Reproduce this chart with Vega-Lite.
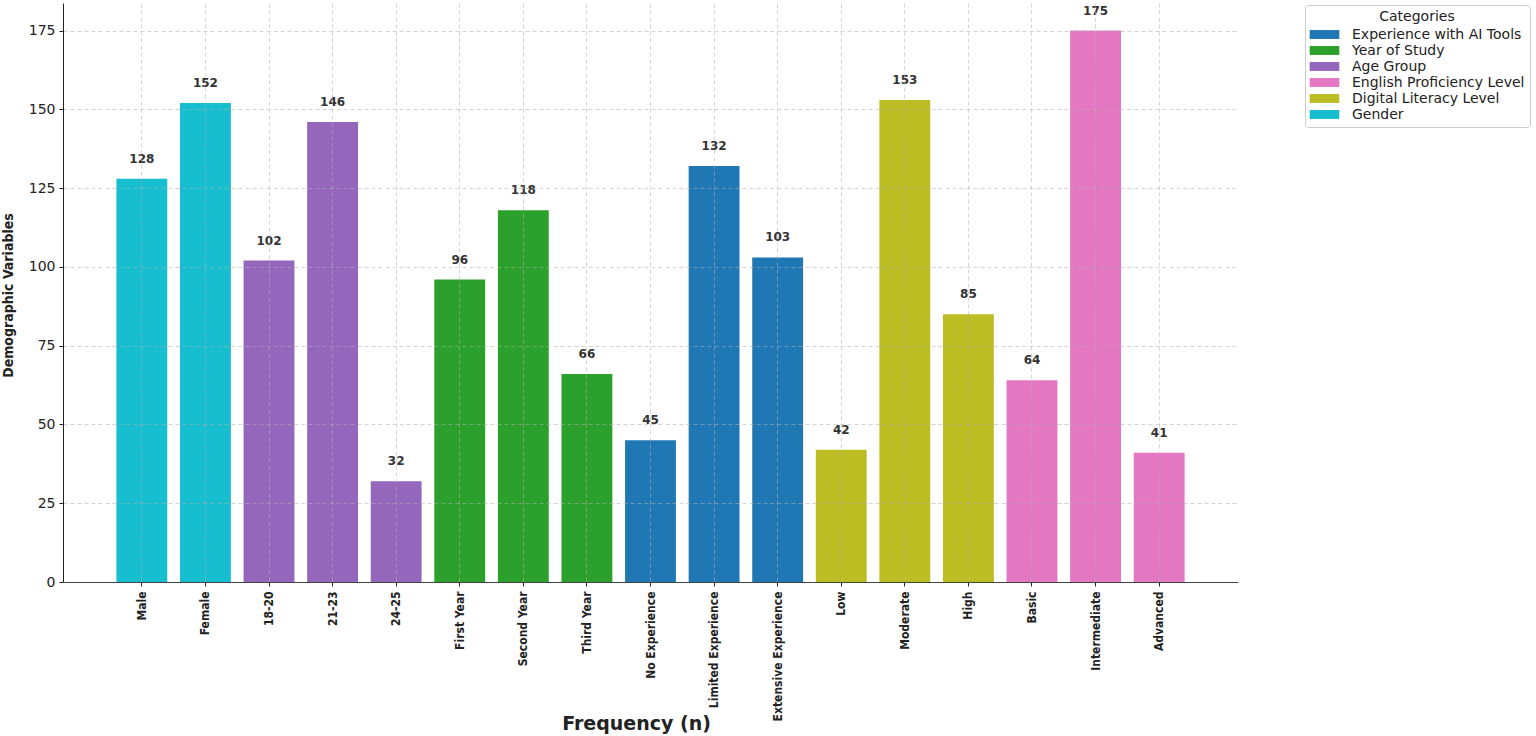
{
  "$schema": "https://vega.github.io/schema/vega-lite/v6.json",
  "autosize": {"type": "none"},
  "padding": {"left": 63, "top": 3, "right": 298, "bottom": 154},
  "width": 1175,
  "height": 579,
  "background": "white",
  "config": {
    "view": {"stroke": null},
    "font": "DejaVu Sans"
  },
  "data": {
    "values": [
      {"item": "Male", "n": 128, "category": "Gender"},
      {"item": "Female", "n": 152, "category": "Gender"},
      {"item": "18-20", "n": 102, "category": "Age Group"},
      {"item": "21-23", "n": 146, "category": "Age Group"},
      {"item": "24-25", "n": 32, "category": "Age Group"},
      {"item": "First Year", "n": 96, "category": "Year of Study"},
      {"item": "Second Year", "n": 118, "category": "Year of Study"},
      {"item": "Third Year", "n": 66, "category": "Year of Study"},
      {"item": "No Experience", "n": 45, "category": "Experience with AI Tools"},
      {"item": "Limited Experience", "n": 132, "category": "Experience with AI Tools"},
      {"item": "Extensive Experience", "n": 103, "category": "Experience with AI Tools"},
      {"item": "Low", "n": 42, "category": "Digital Literacy Level"},
      {"item": "Moderate", "n": 153, "category": "Digital Literacy Level"},
      {"item": "High", "n": 85, "category": "Digital Literacy Level"},
      {"item": "Basic", "n": 64, "category": "English Proficiency Level"},
      {"item": "Intermediate", "n": 175, "category": "English Proficiency Level"},
      {"item": "Advanced", "n": 41, "category": "English Proficiency Level"}
    ]
  },
  "encoding": {
    "x": {
      "field": "item",
      "type": "nominal",
      "sort": null,
      "scale": {"paddingInner": 0.2, "paddingOuter": 0.84},
      "axis": {
        "title": "Frequency (n)",
        "titleFont": "DejaVu Sans",
        "titleFontSize": 19,
        "titleFontWeight": "bold",
        "titleColor": "#222",
        "titleBaseline": "middle",
        "titleY": 141,
        "titleX": 573,
        "labelAngle": -90,
        "labelAlign": "right",
        "labelBaseline": "middle",
        "labelFont": "DejaVu Sans Condensed",
        "labelFontSize": 12,
        "labelFontWeight": "bold",
        "labelColor": "#222",
        "labelPadding": 5,
        "bandPosition": 0.5,
        "grid": true,
        "gridColor": "#b0b0b0",
        "gridDash": [4, 3],
        "gridOpacity": 0.55,
        "domainColor": "#444",
        "tickColor": "#222",
        "tickSize": 4,
        "zindex": 1
      }
    },
    "y": {
      "field": "n",
      "type": "quantitative",
      "scale": {"domain": [0, 183.75], "nice": false},
      "axis": {
        "title": "Demographic Variables",
        "titleFont": "DejaVu Sans Condensed",
        "titleFontSize": 14,
        "titleFontWeight": "bold",
        "titleColor": "#222",
        "titleX": -55,
        "titleY": 292,
        "titleBaseline": "middle",
        "values": [0, 25, 50, 75, 100, 125, 150, 175],
        "labelFontSize": 14,
        "labelColor": "#222",
        "labelPadding": 4,
        "grid": true,
        "gridColor": "#b0b0b0",
        "gridDash": [4, 3],
        "gridOpacity": 0.55,
        "domainColor": "#222",
        "tickColor": "#222",
        "tickSize": 4,
        "zindex": 1
      }
    }
  },
  "layer": [
    {
      "mark": {"type": "bar"},
      "encoding": {
        "color": {
          "field": "category",
          "type": "nominal",
          "scale": {
            "domain": ["Experience with AI Tools", "Year of Study", "Age Group", "English Proficiency Level", "Digital Literacy Level", "Gender"],
            "range": ["#1f77b4", "#2ca02c", "#9467bd", "#e377c2", "#bcbd22", "#17becf"]
          },
          "legend": {
            "title": "Categories",
            "orient": "none",
            "legendX": 1242,
            "legendY": 2,
            "titleAnchor": "middle",
            "titleFontSize": 14,
            "titleFontWeight": "normal",
            "titleColor": "#222",
            "titlePadding": 2,
            "labelFontSize": 14,
            "labelColor": "#222",
            "labelLimit": 400,
            "labelOffset": 19,
            "symbolType": "M-2,-0.6H2V0.6H-2Z",
            "symbolSize": 220,
            "symbolOffset": 6,
            "symbolOpacity": 1,
            "rowPadding": 0,
            "padding": 5,
            "strokeColor": "#cccccc",
            "fillColor": "white",
            "cornerRadius": 3
          }
        }
      }
    },
    {
      "mark": {"type": "text", "dy": -20, "baseline": "middle", "fontWeight": "bold", "fontSize": 12, "color": "#333"},
      "encoding": {
        "text": {"field": "n", "type": "quantitative"}
      }
    }
  ]
}
